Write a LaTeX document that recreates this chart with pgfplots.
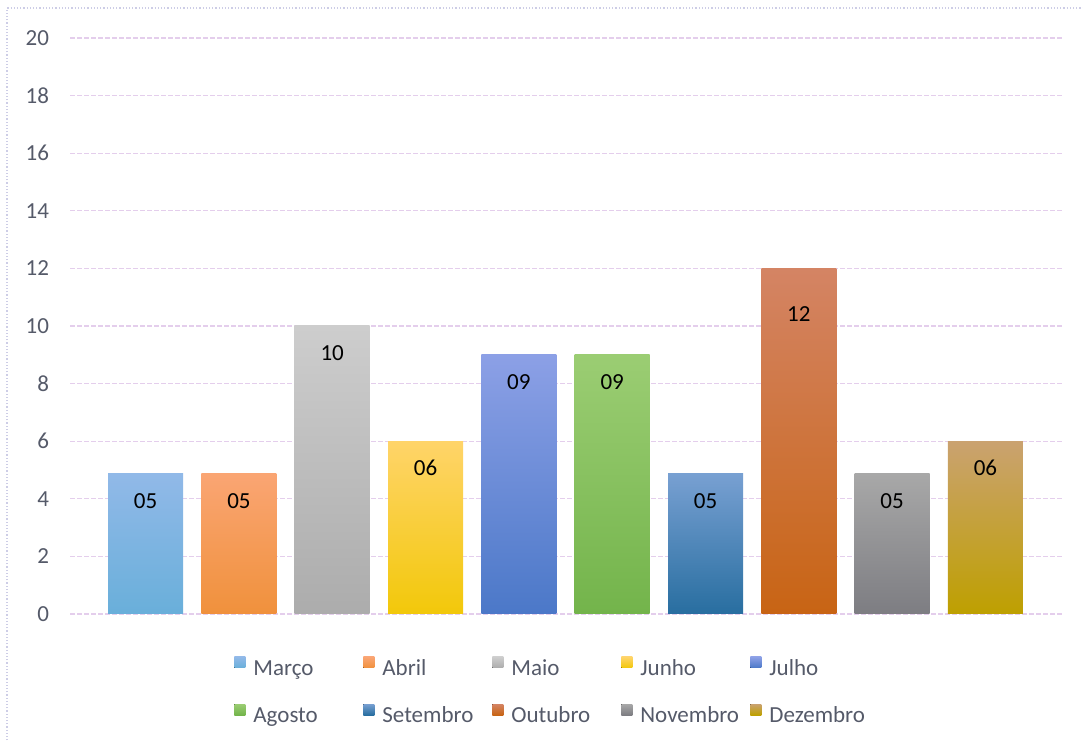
\documentclass[border=0pt]{standalone}
\usepackage{fontspec}
\setmainfont{Carlito}
\usepackage{pgfplots}
\pgfplotsset{compat=1.18}

\definecolor{tickc}{RGB}{85,90,105}
\definecolor{gridc}{RGB}{228,206,236}
\definecolor{borderc}{RGB}{205,205,230}
% bar colours: top / bottom of each gradient
\definecolor{marT}{RGB}{145,185,232}\definecolor{marB}{RGB}{105,175,218}
\definecolor{abrT}{RGB}{250,165,115}\definecolor{abrB}{RGB}{240,145,60}
\definecolor{maiT}{RGB}{205,205,205}\definecolor{maiB}{RGB}{172,172,172}
\definecolor{junT}{RGB}{255,212,105}\definecolor{junB}{RGB}{242,200,10}
\definecolor{julT}{RGB}{140,160,230}\definecolor{julB}{RGB}{75,120,200}
\definecolor{agoT}{RGB}{155,205,115}\definecolor{agoB}{RGB}{115,180,75}
\definecolor{setT}{RGB}{120,160,210}\definecolor{setB}{RGB}{40,110,160}
\definecolor{outT}{RGB}{212,132,100}\definecolor{outB}{RGB}{200,100,20}
\definecolor{novT}{RGB}{168,168,168}\definecolor{novB}{RGB}{125,125,130}
\definecolor{dezT}{RGB}{202,162,112}\definecolor{dezB}{RGB}{190,160,0}

\newcommand\chartfont{\fontsize{11.5}{13.8}\selectfont}

\pgfplotsset{
  mybar/.style 2 args={ybar, bar width=37.5pt, bar shift=0pt, draw=none,
    top color=#1, bottom color=#2},
  lbl/.style={nodes near coords={#1},
    nodes near coords style={anchor=center, yshift=-13.5pt, text=black, font=\chartfont}},
}

\begin{document}
\begin{tikzpicture}
\useasboundingbox (0,0) rectangle (541.5pt,371pt);
\draw[densely dotted, borderc, line width=0.6pt] (3.5pt,-20pt) -- (3.5pt,367pt) -- (560pt,367pt);
\begin{axis}[
  at={(35pt,64pt)}, anchor=south west,
  width=496pt, height=288pt, scale only axis,
  xmin=-0.81, xmax=9.82, ymin=0, ymax=20,
  ytick={0,2,...,20}, xtick=\empty,
  axis line style={draw=none}, major tick length=0pt,
  ymajorgrids, grid style={gridc, dash pattern=on 2.5pt off 1pt, line width=0.6pt},
  /pgf/number format/assume math mode=true,
  yticklabel style={font=\chartfont, text=tickc, xshift=-7pt},
  clip=false,
  legend columns=5,
  legend cell align=left,
  legend image code/.code={\fill[#1] (0pt,0.8pt) rectangle (5.5pt,6.3pt);},
  legend style={at={(0.1653,-0.0738)}, anchor=north west, draw=none, fill=none,
    inner sep=0pt, column sep=0pt, row sep=12pt, font=\chartfont, text=tickc,
    /tikz/every odd column/.append style={column sep=4pt},
    nodes={inner sep=0pt, text width=55pt, text height=8pt, text depth=2.5pt}},
]
\addplot[mybar={marT}{marB}, lbl={05}] coordinates {(0,4.87)};
\addlegendentry{Março}
\addplot[mybar={abrT}{abrB}, lbl={05}] coordinates {(1,4.87)};
\addlegendentry{Abril}
\addplot[mybar={maiT}{maiB}, lbl={10}] coordinates {(2,10)};
\addlegendentry{Maio}
\addplot[mybar={junT}{junB}, lbl={06}] coordinates {(3,6)};
\addlegendentry{Junho}
\addplot[mybar={julT}{julB}, lbl={09}] coordinates {(4,9)};
\addlegendentry{Julho}
\addplot[mybar={agoT}{agoB}, lbl={09}] coordinates {(5,9)};
\addlegendentry{Agosto}
\addplot[mybar={setT}{setB}, lbl={05}] coordinates {(6,4.87)};
\addlegendentry{Setembro}
\addplot[mybar={outT}{outB}, nodes near coords={12},
  nodes near coords style={anchor=center, yshift=-23pt, text=black, font=\chartfont}] coordinates {(7,12)};
\addlegendentry{Outubro}
\addplot[mybar={novT}{novB}, lbl={05}] coordinates {(8,4.87)};
\addlegendentry{Novembro}
\addplot[mybar={dezT}{dezB}, lbl={06}] coordinates {(9,6)};
\addlegendentry{Dezembro}
\end{axis}
\end{tikzpicture}
\end{document}
